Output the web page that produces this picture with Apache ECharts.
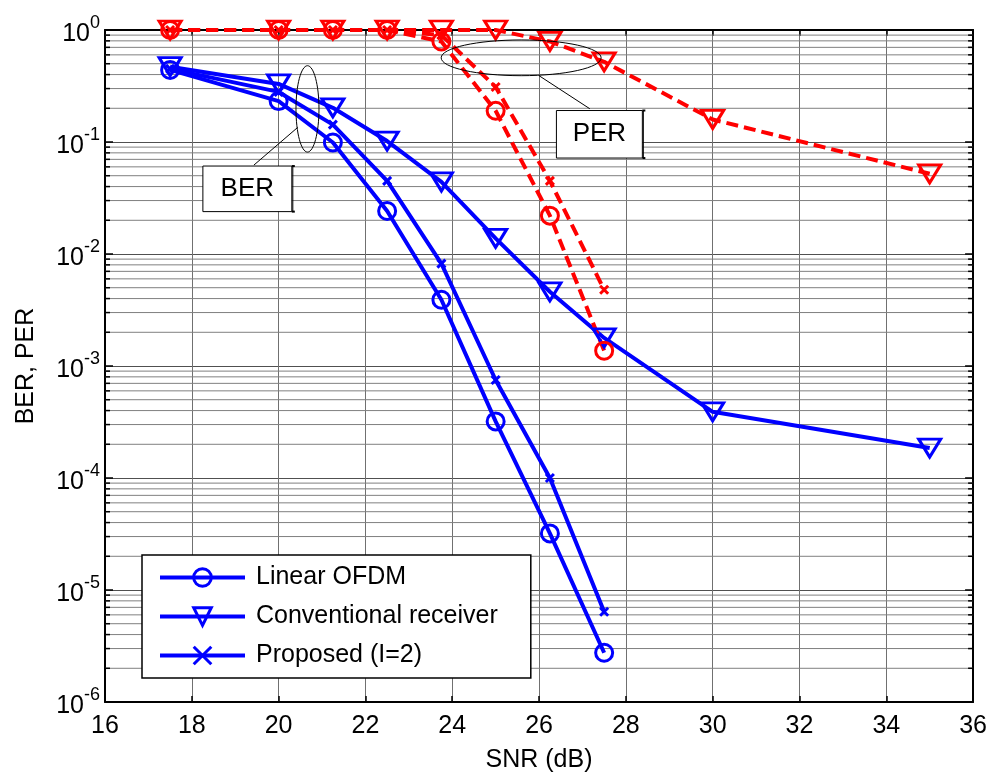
<!DOCTYPE html>
<html>
<head>
<meta charset="utf-8">
<script src="https://cdn.jsdelivr.net/npm/echarts@6/dist/echarts.min.js"></script>
<style>
  html, body { margin: 0; padding: 0; background: #fff; }
  #chart { width: 990px; height: 778px; }
</style>
</head>
<body>
<div id="chart"></div>
<script>
// SNR points (dB)
const snr = [17.5, 20, 21.25, 22.5, 23.75, 25, 26.25, 27.5];
const snrConv = [17.5, 20, 21.25, 22.5, 23.75, 25, 26.25, 27.5, 30, 35];

// Bit error rate
const berLinear = [0.44, 0.232, 0.099, 0.0242, 0.0039, 3.2e-4, 3.2e-5, 2.75e-6];
const berConv = [0.47, 0.33, 0.202, 0.102, 0.044, 0.0138, 0.0046, 0.00178, 3.9e-4, 1.85e-4];
const berProposed = [0.45, 0.28, 0.143, 0.045, 0.0082, 7.5e-4, 1.0e-4, 6.4e-6];

// Packet error rate
const perLinear = [1, 1, 1, 1, 0.79, 0.19, 0.022, 0.00137];
const perConv = [1, 1, 1, 1, 1, 1, 0.79, 0.52, 0.159, 0.052];
const perProposed = [1, 1, 1, 1, 0.9, 0.31, 0.045, 0.0048];

const legendNames = ['Linear OFDM', 'Conventional receiver', 'Proposed (I=2)'];

// Axis ranges
const xRange = [16, 36];
const yRange = [1e-6, 1];

// Callout shapes, in data coordinates: [xMin, xMax], [yMin, yMax]
const berEllipse = [[20.40, 20.93], [0.0813, 0.48]];
const berLeader = [[20.44, 0.135], [19.43, 0.0622]];
const berBox = [[18.255, 20.304], [0.0239, 0.061]];
const perEllipse = [[23.745, 27.43], [0.391, 0.815]];
const perLeader = [[26.0, 0.391], [27.17, 0.198]];
const perBox = [[26.40, 28.38], [0.0719, 0.191]];

const BLUE = '#0000ff';
const RED = '#ff0000';
const FONT = 'Liberation Sans, Arial, sans-serif';

// minor log grid values 2..9 x 10^n
const minorValues = [];
for (let e = -6; e < 0; e++) {
  for (let k = 2; k <= 9; k++) minorValues.push([xRange[0], k * Math.pow(10, e)]);
}

const SYM_X = 'path://M0,0L10,10M10,0L0,10';

function makeSeries(name, xs, ys, color, kind, dashed) {
  const base = {
    name: name,
    type: 'line',
    data: xs.map((x, i) => [x, ys[i]]),
    lineStyle: { color: color, width: 4, type: dashed ? [12, 6] : 'solid' },
    itemStyle: { color: 'rgba(0,0,0,0)', borderColor: color, borderWidth: 3 },
    showAllSymbol: true,
    z: 3,
    emphasis: { disabled: true },
    animation: false
  };
  if (kind === 'o') { base.symbol = 'circle'; base.symbolSize = 17; }
  if (kind === 'v') { base.symbol = 'triangle'; base.symbolRotate = 180; base.symbolSize = [22, 18]; }
  if (kind === 'x') { base.symbol = SYM_X; base.symbolSize = 8; }
  return base;
}

const chart = echarts.init(document.getElementById('chart'), null, { renderer: 'canvas' });

const option = {
  backgroundColor: '#fff',
  animation: false,
  grid: { left: 105, right: 16, top: 30, bottom: 71 },
  xAxis: [{
    type: 'value', min: xRange[0], max: xRange[1], interval: 2,
    name: 'SNR (dB)', nameLocation: 'middle', nameGap: 46,
    nameTextStyle: { fontSize: 25, fontFamily: FONT, color: '#000' },
    axisLine: { show: true, onZero: false, lineStyle: { color: '#000', width: 2 } },
    axisTick: { inside: true, length: 6, lineStyle: { color: '#000', width: 1.5 } },
    axisLabel: { fontSize: 25, fontFamily: FONT, color: '#000', margin: 12 },
    splitLine: { show: true, lineStyle: { color: '#707070', width: 1 } }
  }, {
    type: 'value', position: 'top', min: xRange[0], max: xRange[1], interval: 2,
    axisLine: { show: true, onZero: false, lineStyle: { color: '#000', width: 2 } },
    axisTick: { inside: true, length: 6, lineStyle: { color: '#000', width: 1.5 } },
    axisLabel: { show: false }, splitLine: { show: false }
  }],
  yAxis: [{
    type: 'log', logBase: 10, min: yRange[0], max: yRange[1], interval: 1,
    name: 'BER, PER', nameLocation: 'middle', nameGap: 66,
    nameTextStyle: { fontSize: 25, fontFamily: FONT, color: '#000' },
    axisLine: { show: true, onZero: false, lineStyle: { color: '#000', width: 2 } },
    axisTick: { inside: true, length: 8, lineStyle: { color: '#000', width: 1.5 } },
    axisLabel: {
      margin: 5,
      formatter: function (v) {
        const e = Math.round(Math.log10(v));
        return '{b|10}{s|' + e + '}';
      },
      rich: {
        b: { fontSize: 25, fontFamily: FONT, color: '#000', padding: [8, 0, 0, 0] },
        s: { fontSize: 18, fontFamily: FONT, color: '#000', padding: [0, 0, 14, 0] }
      }
    },
    splitLine: { show: true, lineStyle: { color: '#505050', width: 1 } }
  }, {
    type: 'log', logBase: 10, min: yRange[0], max: yRange[1], interval: 1, position: 'right',
    axisLine: { show: true, onZero: false, lineStyle: { color: '#000', width: 2 } },
    axisTick: { inside: true, length: 8, lineStyle: { color: '#000', width: 1.5 } },
    axisLabel: { show: false }, splitLine: { show: false }
  }],
  legend: {
    data: legendNames,
    orient: 'vertical',
    left: 142, top: 555,
    padding: [10, 33, 10, 16],
    itemGap: 14,
    itemWidth: 85, itemHeight: 22,
    backgroundColor: '#fff',
    borderColor: '#000', borderWidth: 1.5, borderRadius: 0,
    symbolRotate: 'inherit',
    selectedMode: false,
    lineStyle: { width: 4 },
    itemStyle: { borderWidth: 3 },
    textStyle: { fontSize: 25, fontFamily: FONT, color: '#000', lineHeight: 24, padding: [0, 0, 0, 6] }
  },
  series: [
    {
      name: 'minor-grid',
      type: 'custom',
      data: minorValues,
      silent: true,
      z: 1,
      clip: false,
      renderItem: function (params, api) {
        const v = api.value(1);
        const a = api.coord([xRange[0], v]);
        const b = api.coord([xRange[1], v]);
        return {
          type: 'group',
          children: [
            { type: 'line', shape: { x1: a[0], y1: a[1], x2: b[0], y2: b[1] },
              style: { stroke: '#808080', lineWidth: 1 } },
            { type: 'line', shape: { x1: a[0], y1: a[1], x2: a[0] + 5, y2: a[1] },
              style: { stroke: '#000', lineWidth: 1.5 } },
            { type: 'line', shape: { x1: b[0] - 5, y1: b[1], x2: b[0], y2: b[1] },
              style: { stroke: '#000', lineWidth: 1.5 } }
          ]
        };
      }
    },
    makeSeries(legendNames[0], snr, berLinear, BLUE, 'o', false),
    makeSeries(legendNames[1], snrConv, berConv, BLUE, 'v', false),
    makeSeries(legendNames[2], snr, berProposed, BLUE, 'x', false),
    makeSeries('Linear OFDM PER', snr, perLinear, RED, 'o', true),
    makeSeries('Conventional receiver PER', snrConv, perConv, RED, 'v', true),
    makeSeries('Proposed (I=2) PER', snr, perProposed, RED, 'x', true)
  ]
};

chart.setOption(option);

// Callouts placed through the axis scales
function px(pt) { return chart.convertToPixel({ gridIndex: 0 }, pt); }
function ellipseShape(spec) {
  const p1 = px([spec[0][0], spec[1][1]]);
  const p2 = px([spec[0][1], spec[1][0]]);
  return { cx: (p1[0] + p2[0]) / 2, cy: (p1[1] + p2[1]) / 2,
           rx: Math.abs(p2[0] - p1[0]) / 2, ry: Math.abs(p2[1] - p1[1]) / 2 };
}
function boxRect(spec) {
  const p1 = px([spec[0][0], spec[1][1]]);
  const p2 = px([spec[0][1], spec[1][0]]);
  return { x: p1[0], y: p1[1], width: p2[0] - p1[0], height: p2[1] - p1[1] };
}
function callout(ellipse, leader, box, label) {
  const r = boxRect(box);
  const l1 = px(leader[0]), l2 = px(leader[1]);
  return [
    { type: 'ellipse', shape: ellipseShape(ellipse), style: { fill: 'none', stroke: '#000', lineWidth: 1 }, z: 10 },
    { type: 'line', shape: { x1: l1[0], y1: l1[1], x2: l2[0], y2: l2[1] }, style: { stroke: '#000', lineWidth: 1 }, z: 10 },
    { type: 'rect', shape: r, style: { fill: '#fff', stroke: '#000', lineWidth: 1 }, z: 10 },
    { type: 'line', shape: { x1: r.x + r.width, y1: r.y, x2: r.x + r.width + 3, y2: r.y }, style: { stroke: '#000', lineWidth: 2 }, z: 11 },
    { type: 'line', shape: { x1: r.x + r.width, y1: r.y + r.height, x2: r.x + r.width + 3, y2: r.y + r.height }, style: { stroke: '#000', lineWidth: 2 }, z: 11 },
    { type: 'line', shape: { x1: r.x + r.width + 1, y1: r.y, x2: r.x + r.width + 1, y2: r.y + r.height }, style: { stroke: '#000', lineWidth: 1 }, z: 11 },
    { type: 'text', x: r.x + r.width / 2, y: r.y + r.height / 2,
      style: { text: label, fontSize: 26, fontFamily: FONT, fill: '#000', align: 'center', verticalAlign: 'middle' }, z: 12 }
  ];
}

chart.setOption({
  graphic: [].concat(
    callout(berEllipse, berLeader, berBox, 'BER'),
    callout(perEllipse, perLeader, perBox, 'PER')
  )
});
</script>
</body>
</html>
